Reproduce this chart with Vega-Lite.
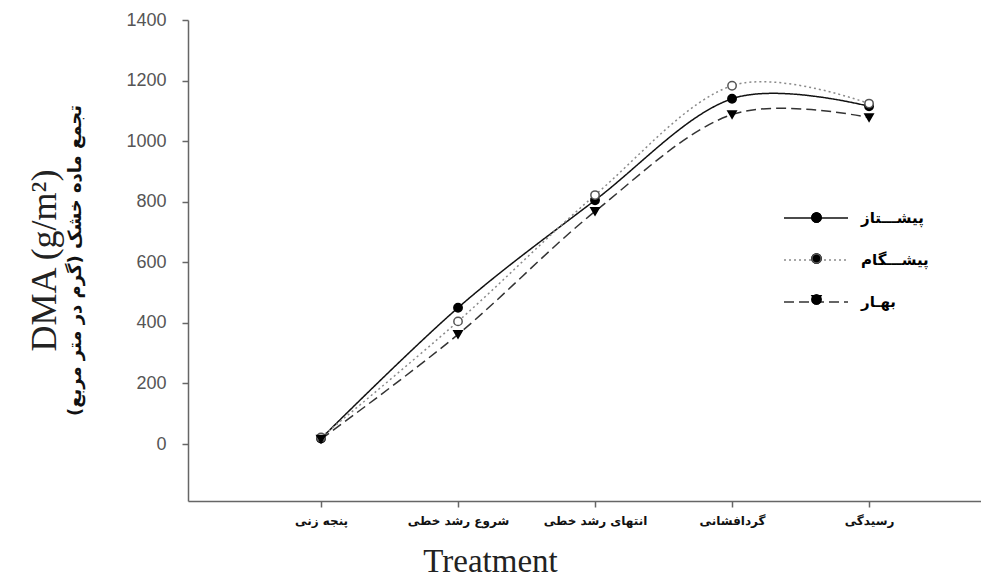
{
  "$schema": "https://vega.github.io/schema/vega-lite/v6.json",
  "width": 793,
  "height": 481,
  "autosize": {"type": "none"},
  "padding": {"left": 188, "top": 20, "right": 0, "bottom": 78},
  "background": "white",
  "title": {"text": "DMA (g/m²)", "orient": "left", "font": "Liberation Serif", "fontSize": 36, "fontWeight": "normal", "color": "#222", "offset": 2, "anchor": "middle"},
  "config": {"view": {"stroke": null}},
  "data": {"values": [
    {"stage": "پنجه زنی", "cultivar": "پیشتاز", "dma": 18},
    {"stage": "شروع رشد خطی", "cultivar": "پیشتاز", "dma": 450},
    {"stage": "انتهای رشد خطی", "cultivar": "پیشتاز", "dma": 805},
    {"stage": "گردافشانی", "cultivar": "پیشتاز", "dma": 1140},
    {"stage": "رسیدگی", "cultivar": "پیشتاز", "dma": 1115},
    {"stage": "پنجه زنی", "cultivar": "پیشگام", "dma": 22},
    {"stage": "شروع رشد خطی", "cultivar": "پیشگام", "dma": 405},
    {"stage": "انتهای رشد خطی", "cultivar": "پیشگام", "dma": 822},
    {"stage": "گردافشانی", "cultivar": "پیشگام", "dma": 1183},
    {"stage": "رسیدگی", "cultivar": "پیشگام", "dma": 1124},
    {"stage": "پنجه زنی", "cultivar": "بهار", "dma": 16},
    {"stage": "شروع رشد خطی", "cultivar": "بهار", "dma": 362},
    {"stage": "انتهای رشد خطی", "cultivar": "بهار", "dma": 768},
    {"stage": "گردافشانی", "cultivar": "بهار", "dma": 1088},
    {"stage": "رسیدگی", "cultivar": "بهار", "dma": 1078}
  ]},
  "encoding": {
    "x": {
      "field": "stage", "type": "ordinal",
      "sort": ["پنجه زنی", "شروع رشد خطی", "انتهای رشد خطی", "گردافشانی", "رسیدگی"],
      "scale": {"type": "point", "padding": 0.894, "align": 0.543},
      "axis": {
        "title": "Treatment", "titleFont": "Liberation Serif", "titleFontSize": 33, "titleFontWeight": "normal", "titleColor": "#222",
        "titleX": 302, "titleY": 70, "titleAlign": "center", "titleBaseline": "alphabetic",
        "labelAngle": 0, "labelFont": "DejaVu Sans", "labelFontSize": 12, "labelFontWeight": "bold", "labelColor": "#111", "labelPadding": 8,
        "domainColor": "#666", "domainWidth": 1.5, "tickColor": "#666", "tickWidth": 1.5, "tickSize": 6, "grid": false
      }
    },
    "y": {
      "field": "dma", "type": "quantitative",
      "scale": {"domain": [-188, 1400], "nice": false, "zero": false},
      "axis": {
        "title": "تجمع ماده خشک (گرم در متر مربع)", "titleFont": "DejaVu Sans", "titleFontSize": 18, "titleFontWeight": "bold", "titleColor": "#111",
        "titleX": -113, "titleY": 240, "titleAlign": "center", "titleBaseline": "middle", "titleAngle": -90,
        "values": [0, 200, 400, 600, 800, 1000, 1200, 1400], "format": "d",
        "labelFont": "Liberation Sans", "labelFontSize": 18, "labelColor": "#555", "labelPadding": 16,
        "domainColor": "#666", "domainWidth": 1.5, "tickColor": "#666", "tickWidth": 1.5, "tickSize": 6, "grid": false
      }
    }
  },
  "layer": [
    {
      "mark": {"type": "line", "interpolate": "cardinal", "strokeWidth": 1.5},
      "encoding": {
        "color": {"field": "cultivar", "type": "nominal",
          "scale": {"domain": ["پیشتاز", "پیشگام", "بهار"], "range": ["#111111", "#8a8a8a", "#333333"]},
          "legend": {"title": null, "orient": "none", "legendX": 595, "legendY": 165, "symbolType": "stroke", "symbolSize": 4096, "symbolStrokeWidth": 1.5,
            "labelFont": "DejaVu Sans", "labelFontSize": 15, "labelFontWeight": "bold", "labelColor": "#000", "rowPadding": 1, "labelOffset": 12,
            "labelExpr": "datum.label == 'پیشتاز' ? 'پیشـــتاز' : datum.label == 'پیشگام' ? 'پیشـــگام' : 'بهـار'"}},
        "strokeDash": {"field": "cultivar", "type": "nominal",
          "scale": {"domain": ["پیشتاز", "پیشگام", "بهار"], "range": [[1, 0], [2, 3], [10, 5]]},
          "legend": {"title": null, "orient": "none", "legendX": 595, "legendY": 165, "symbolType": "stroke", "symbolSize": 4096, "symbolStrokeWidth": 1.5,
            "labelFont": "DejaVu Sans", "labelFontSize": 15, "labelFontWeight": "bold", "labelColor": "#000", "rowPadding": 1, "labelOffset": 12,
            "labelExpr": "datum.label == 'پیشتاز' ? 'پیشـــتاز' : datum.label == 'پیشگام' ? 'پیشـــگام' : 'بهـار'"}}
      }
    },
    {
      "transform": [{"calculate": "datum.cultivar", "as": "cv"}],
      "mark": {"type": "point", "size": 70, "strokeWidth": 1.5, "opacity": 1},
      "encoding": {
        "shape": {"field": "cv", "type": "nominal", "sort": ["پیشتاز", "پیشگام", "بهار"],
          "scale": {"range": ["circle", "circle", "triangle-down"]},
          "legend": {"title": null, "orient": "none", "legendX": 595, "legendY": 190, "symbolSize": 80, "symbolStrokeWidth": 1.5, "symbolOffset": 26,
            "symbolFillColor": "#000000", "symbolStrokeColor": "#000000", "symbolOpacity": 1,
            "labelFont": "DejaVu Sans", "labelFontSize": 15, "labelFontWeight": "bold", "labelColor": "transparent", "rowPadding": 25, "labelOffset": 12}},
        "fill": {"field": "cv", "type": "nominal", "sort": ["پیشتاز", "پیشگام", "بهار"],
          "scale": {"range": ["#000000", "#ffffff", "#000000"]},
          "legend": {"title": null, "orient": "none", "legendX": 595, "legendY": 190, "symbolSize": 80, "symbolStrokeWidth": 1.5, "symbolOffset": 26,
            "symbolFillColor": "#000000", "symbolStrokeColor": "#000000", "symbolOpacity": 1,
            "labelFont": "DejaVu Sans", "labelFontSize": 15, "labelFontWeight": "bold", "labelColor": "transparent", "rowPadding": 25, "labelOffset": 12}},
        "stroke": {"field": "cv", "type": "nominal", "sort": ["پیشتاز", "پیشگام", "بهار"],
          "scale": {"range": ["#000000", "#555555", "#000000"]},
          "legend": {"title": null, "orient": "none", "legendX": 595, "legendY": 190, "symbolSize": 80, "symbolStrokeWidth": 1.5, "symbolOffset": 26,
            "symbolFillColor": "#000000", "symbolStrokeColor": "#000000", "symbolOpacity": 1,
            "labelFont": "DejaVu Sans", "labelFontSize": 15, "labelFontWeight": "bold", "labelColor": "transparent", "rowPadding": 25, "labelOffset": 12}}
      }
    }
  ]
}
